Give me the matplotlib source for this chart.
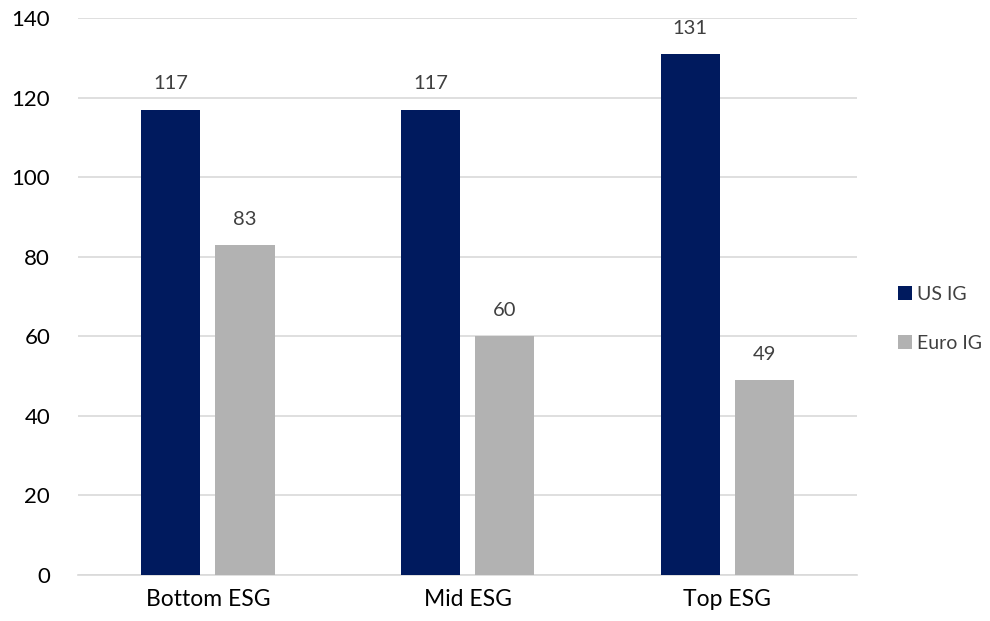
import matplotlib
matplotlib.use("Agg")
import matplotlib.pyplot as plt
import numpy as np

categories = ["Bottom ESG", "Mid ESG", "Top ESG"]
us_ig = [117, 117, 131]
euro_ig = [83, 60, 49]
series_names = ["US IG", "Euro IG"]
yticks = [0, 20, 40, 60, 80, 100, 120, 140]

plt.rcParams['font.family'] = ['Lato', 'DejaVu Sans']

fig = plt.figure(figsize=(9.9, 6.21), dpi=100)
ax = fig.add_axes([0.0788, 0.074, 0.787, 0.897])

x = np.arange(len(categories))
w = 0.228
off = 0.143
navy = "#001A5E"
gray = "#B2B2B2"
b1 = ax.bar(x - off, us_ig, w, color=navy, label=series_names[0], zorder=3)
b2 = ax.bar(x + off, euro_ig, w, color=gray, label=series_names[1], zorder=3)

for bars, vals in ((b1, us_ig), (b2, euro_ig)):
    for b, v in zip(bars, vals):
        ax.text(b.get_x() + b.get_width() / 2, v + 4.3, str(v), ha="center", va="bottom",
                fontsize=14.5, color="#404040")

ax.set_xlim(-0.5, 2.5)
ax.set_ylim(0, 140)
ax.set_yticks(yticks)
ax.set_xticks(x)
ax.set_xticklabels(categories, fontsize=16.5)
ax.tick_params(axis="both", length=0, colors="black")
ax.tick_params(axis="y", labelsize=16, pad=20)
ax.tick_params(axis="x", pad=10)
ax.grid(axis="y", color="#D9D9D9", linewidth=1.2, zorder=0)
for s in ["top", "right", "left"]:
    ax.spines[s].set_visible(False)
ax.spines["bottom"].set_color("#D9D9D9")
ax.spines["bottom"].set_linewidth(1.2)

leg = fig.legend(handles=[b1, b2], labels=series_names, loc="center left",
                 bbox_to_anchor=(0.907, 0.487), frameon=False, fontsize=14,
                 handlelength=0.7, handleheight=0.7, handletextpad=0.3,
                 labelspacing=1.65, labelcolor="#404040", borderpad=0, borderaxespad=0)

fig.savefig("out.png", dpi=100)
